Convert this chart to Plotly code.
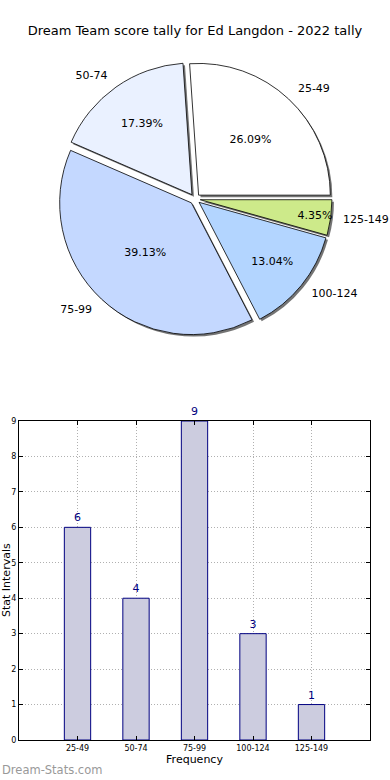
import plotly.graph_objects as go

categories = ["25-49", "50-74", "75-99", "100-124", "125-149"]
counts = [6, 4, 9, 3, 1]
pie_colors = ["#ffffff", "#eaf1ff", "#c4d8ff", "#b3d5ff", "#cdea8a"]
y_ticks = list(range(0, 10))

title_text = "Dream Team score tally for Ed Langdon - 2022 tally"
W, H = 390, 780
FONT = "DejaVu Sans"

def px_x(x):
    return x / W

def px_y(y):
    return 1 - y / H

# first slice must end at 12 o'clock (matplotlib startangle=0, counterclockwise)
first_frac = counts[0] / sum(counts)
rot = 90 - 360 * first_frac

pie_dom_x = [px_x(55), px_x(335)]
pie_dom_y = [px_y(336), px_y(62)]
pull = [0.04] * len(counts)

fig = go.Figure()

# shadow
sh = 2
fig.add_trace(go.Pie(
    labels=categories, values=counts, sort=False, direction="counterclockwise",
    rotation=rot, pull=pull,
    marker=dict(colors=["rgba(70,70,70,0.75)"] * 5, line=dict(width=0)),
    textinfo="none", hoverinfo="skip", showlegend=False,
    domain=dict(x=[pie_dom_x[0] + sh / W, pie_dom_x[1] + sh / W],
                y=[pie_dom_y[0] - sh / H, pie_dom_y[1] - sh / H]),
))

# main pie with percentages
fig.add_trace(go.Pie(
    labels=categories, values=counts, sort=False, direction="counterclockwise",
    rotation=rot, pull=pull,
    marker=dict(colors=pie_colors, line=dict(color="#000000", width=0.8)),
    texttemplate="%{percent:.2%}", textposition="inside",
    insidetextorientation="horizontal",
    textfont=dict(family=FONT, size=11, color="#000000"),
    showlegend=False,
    domain=dict(x=pie_dom_x, y=pie_dom_y),
))

# label pie (transparent) with outside labels
fig.add_trace(go.Pie(
    labels=categories, values=counts, sort=False, direction="counterclockwise",
    rotation=rot, pull=pull,
    marker=dict(colors=["rgba(0,0,0,0)"] * 5, line=dict(width=0)),
    textinfo="label", textposition="outside",
    textfont=dict(family=FONT, size=11, color="#000000"),
    hoverinfo="skip", showlegend=False,
    domain=dict(x=[px_x(19), px_x(371)], y=[px_y(345), px_y(53)]),
))

# bar chart
fig.add_trace(go.Bar(
    x=categories, y=counts, width=0.45,
    marker=dict(color="#ccccdf", line=dict(color="#000080", width=1)),
    text=[str(c) for c in counts], textposition="outside",
    textfont=dict(family=FONT, size=11, color="#000080"),
    cliponaxis=False, showlegend=False,
    xaxis="x", yaxis="y",
))

axis_common = dict(
    showline=True, linecolor="#000000", linewidth=1, mirror="ticks",
    ticks="inside", ticklen=4, tickcolor="#000000",
    showgrid=True, gridcolor="#b0b0b0", griddash="1px,2px", gridwidth=1,
    zeroline=False, automargin=False,
    tickfont=dict(family=FONT, size=8, color="#000000"),
)

fig.update_layout(
    width=W, height=H,
    margin=dict(l=0, r=0, t=0, b=0, autoexpand=False),
    uniformtext=dict(minsize=11, mode="show"),
    paper_bgcolor="#ffffff", plot_bgcolor="#ffffff",
    font=dict(family=FONT, color="#000000"),
    title=dict(text=title_text, x=0.5, xanchor="center", y=px_y(30), yanchor="middle",
               font=dict(family=FONT, size=13, color="#000000")),
    xaxis=dict(domain=[px_x(19), px_x(370)], range=[-1, 5], type="category",
               title=dict(text="Frequency", font=dict(family=FONT, size=11), standoff=0),
               anchor="y", **axis_common),
    yaxis=dict(domain=[px_y(740), px_y(421)], range=[0, 9], tickvals=y_ticks,
               anchor="x", **axis_common),
    annotations=[
        dict(text="Stat Intervals", x=px_x(6), y=px_y(580), xref="paper", yref="paper",
             xanchor="center", yanchor="middle", textangle=-90, showarrow=False,
             font=dict(family=FONT, size=11, color="#000000")),
        dict(text="Dream-Stats.com", x=0, y=px_y(770), xref="paper", yref="paper",
             xanchor="left", yanchor="middle", showarrow=False,
             font=dict(family=FONT, size=11.5, color="#999999")),
    ],
)

fig.write_html("out.html", config={"displayModeBar": False},
               post_script="document.body.style.margin='0';")
